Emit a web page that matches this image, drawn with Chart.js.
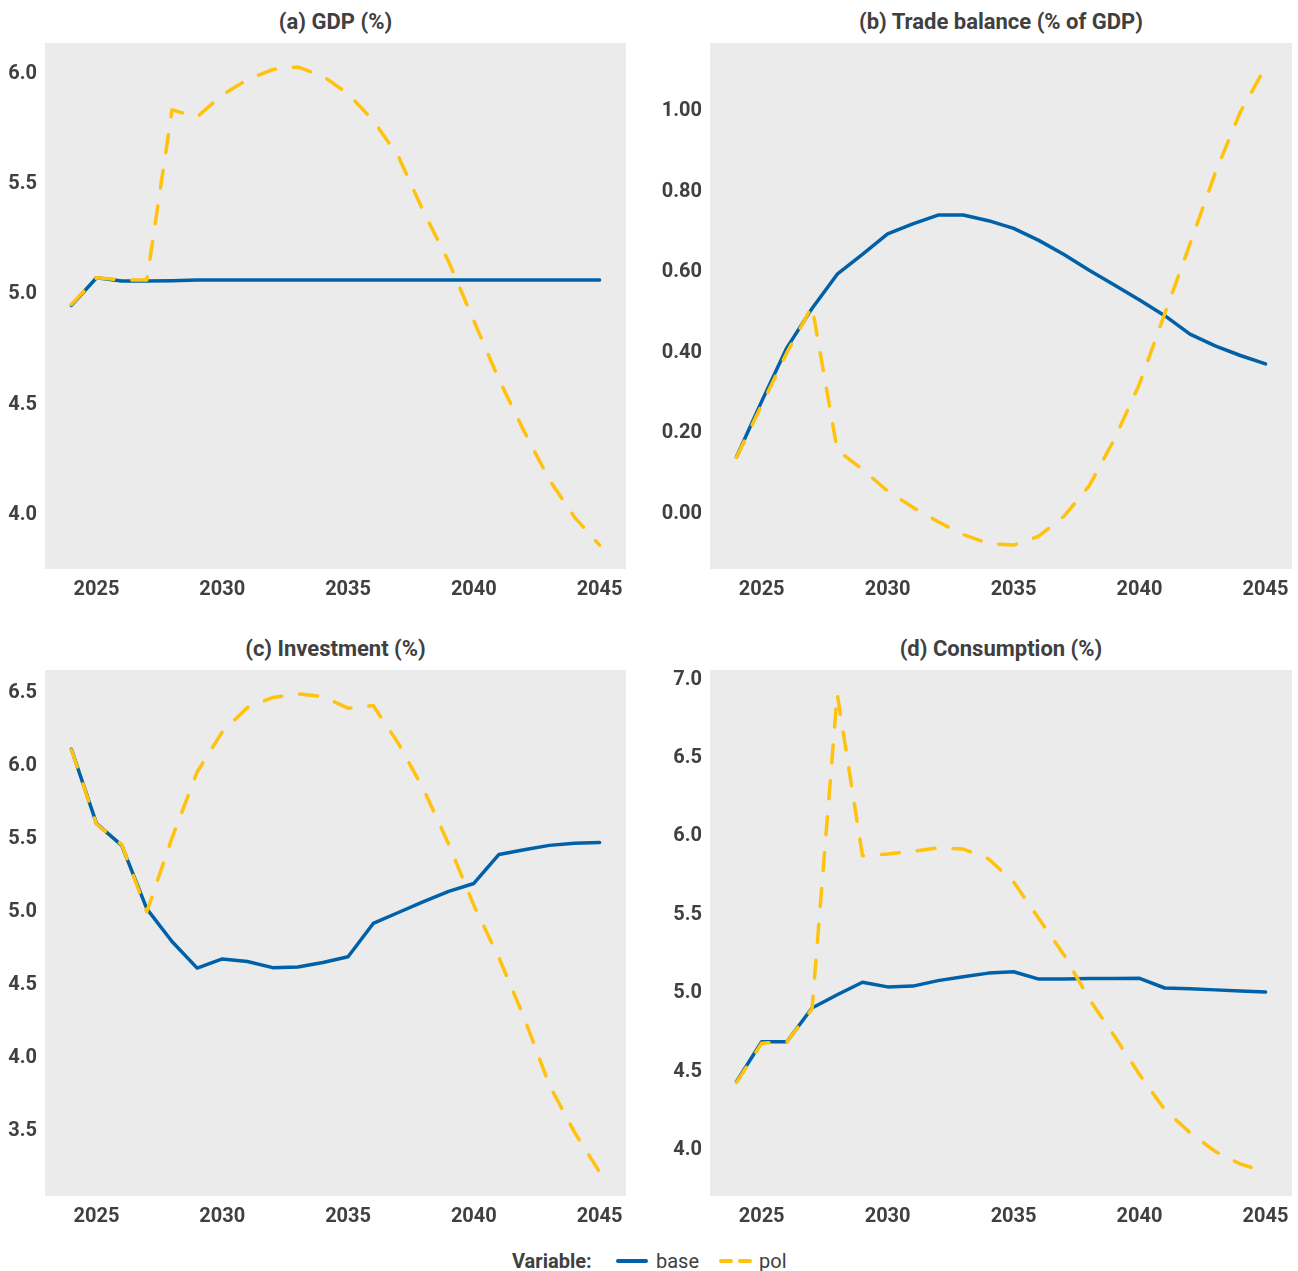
<!DOCTYPE html>
<html>
<head>
<meta charset="utf-8">
<script src="https://cdn.jsdelivr.net/npm/chart.js@4.4.1/dist/chart.umd.min.js"></script>
<style>
  body { margin:0; background:#fff; font-family:Roboto, sans-serif; color:#404040; }
  #page { position:relative; width:1298px; height:1271px; }
  canvas { position:absolute; }
  .ttl { position:absolute; text-align:center; font-size:22px; font-weight:bold; line-height:24px; }
  .leg { position:absolute; top:1249px; font-size:20px; line-height:24px; }
  .sw { position:absolute; height:4px; border-radius:2px; top:1259px; }
</style>
</head>
<body>
<div id="page">
  <div class="ttl" style="left:45px;width:581px;top:10px">(a) GDP (%)</div>
  <div class="ttl" style="left:710px;width:582px;top:10px">(b) Trade balance (% of GDP)</div>
  <div class="ttl" style="left:45px;width:581px;top:637px">(c) Investment (%)</div>
  <div class="ttl" style="left:710px;width:582px;top:637px">(d) Consumption (%)</div>
  <canvas id="gdp" width="640" height="612" style="left:0;top:0"></canvas>
  <canvas id="trade" width="643" height="612" style="left:655px;top:0"></canvas>
  <canvas id="inv" width="640" height="612" style="left:0;top:627px"></canvas>
  <canvas id="cons" width="643" height="612" style="left:655px;top:627px"></canvas>
  <div class="leg" style="left:512px;font-weight:bold">Variable:</div>
  <div class="sw" style="left:616px;width:32px;background:#0061A8"></div>
  <div class="leg" style="left:656px">base</div>
  <div class="sw" style="left:719px;width:14px;background:#FFC20E"></div>
  <div class="sw" style="left:738px;width:14px;background:#FFC20E"></div>
  <div class="leg" style="left:759px">pol</div>
</div>
<script>
var years = [2024,2025,2026,2027,2028,2029,2030,2031,2032,2033,2034,2035,2036,2037,2038,2039,2040,2041,2042,2043,2044,2045];
var xTicks = [2025,2030,2035,2040,2045];

var gdpBase = [4.95,5.075,5.06,5.06,5.062,5.065,5.065,5.065,5.065,5.065,5.065,5.065,5.065,5.065,5.065,5.065,5.065,5.065,5.065,5.065,5.065,5.065];
var gdpPol = [4.954,5.075,5.065,5.065,5.837,5.805,5.905,5.975,6.02,6.032,5.99,5.91,5.789,5.626,5.375,5.148,4.88,4.613,4.378,4.159,3.989,3.862];
var gdpTicks = [4.0,4.5,5.0,5.5,6.0];

var tradeBase = [0.141,0.279,0.412,0.51,0.595,0.644,0.695,0.72,0.742,0.742,0.728,0.709,0.679,0.644,0.605,0.568,0.531,0.492,0.446,0.417,0.393,0.372];
var tradePol = [0.14,0.27,0.40,0.515,0.158,0.11,0.056,0.016,-0.02,-0.052,-0.074,-0.078,-0.056,-0.006,0.069,0.185,0.323,0.497,0.67,0.846,0.998,1.11];
var tradeTicks = [0.0,0.2,0.4,0.6,0.8,1.0];

var invBase = [6.114,5.604,5.455,5.02,4.796,4.614,4.677,4.659,4.617,4.622,4.652,4.692,4.92,4.995,5.07,5.14,5.194,5.393,5.425,5.455,5.47,5.475];
var invPol = [6.11,5.60,5.46,5.0,5.507,5.958,6.234,6.40,6.468,6.493,6.475,6.395,6.413,6.154,5.84,5.463,5.045,4.684,4.274,3.813,3.49,3.216];
var invTicks = [3.5,4.0,4.5,5.0,5.5,6.0,6.5];

var consBase = [4.435,4.69,4.69,4.905,4.99,5.07,5.04,5.045,5.08,5.105,5.128,5.137,5.09,5.09,5.093,5.093,5.095,5.033,5.028,5.021,5.014,5.007];
var consPol = [4.43,4.68,4.69,4.90,6.91,5.877,5.888,5.905,5.928,5.92,5.858,5.71,5.477,5.244,4.963,4.726,4.48,4.256,4.11,3.99,3.91,3.858];
var consTicks = [4.0,4.5,5.0,5.5,6.0,6.5,7.0];

var blue = '#0061A8';
var yellow = '#FFC20E';

Chart.defaults.font.family = 'Roboto';
Chart.defaults.color = '#404040';

// grey panel behind the lines
var panelBg = {
  id: 'panelBg',
  beforeDraw: function(chart) {
    var a = chart.chartArea, ctx = chart.ctx;
    ctx.save();
    ctx.fillStyle = '#EBEBEB';
    ctx.fillRect(a.left, a.top, a.right - a.left, a.bottom - a.top);
    ctx.restore();
  }
};

function pts(vals) {
  return years.map(function(y, i) { return {x: y, y: vals[i]}; });
}

function makeChart(id, base, pol, yTicks, dec, axisW, padRight) {
  var lo = Math.min.apply(null, base.concat(pol));
  var hi = Math.max.apply(null, base.concat(pol));
  var ypad = (hi - lo) * 0.05;
  var xpad = (years[years.length-1] - years[0]) * 0.05;
  var tickFont = {size: 20, weight: 'bold'};

  new Chart(document.getElementById(id), {
    type: 'line',
    data: {
      datasets: [
        {label: 'pol', data: pts(pol), borderColor: yellow, borderDash: [18, 18],
         borderCapStyle: 'round', borderJoinStyle: 'round', order: 0},
        {label: 'base', data: pts(base), borderColor: blue,
         borderCapStyle: 'round', borderJoinStyle: 'round', order: 1}
      ]
    },
    options: {
      responsive: false,
      animation: false,
      events: [],
      layout: {padding: {left: 0, right: padRight, top: 43, bottom: 0}},
      elements: {point: {radius: 0}, line: {tension: 0, borderWidth: 3.5}},
      plugins: {legend: {display: false}, tooltip: {enabled: false}},
      scales: {
        x: {
          type: 'linear',
          min: years[0] - xpad,
          max: years[years.length-1] + xpad,
          afterBuildTicks: function(s) { s.ticks = xTicks.map(function(v) { return {value: v}; }); },
          afterFit: function(s) { s.height = 43; },
          grid: {display: false, drawTicks: false},
          border: {display: false},
          ticks: {padding: 9, font: tickFont, maxRotation: 0, callback: function(v) { return String(v); }}
        },
        y: {
          min: lo - ypad,
          max: hi + ypad,
          afterBuildTicks: function(s) { s.ticks = yTicks.map(function(v) { return {value: v}; }); },
          afterFit: function(s) { s.width = axisW; },
          grid: {display: false, drawTicks: false},
          border: {display: false},
          ticks: {padding: 8, font: tickFont, callback: function(v) { return v.toFixed(dec); }}
        }
      }
    },
    plugins: [panelBg]
  });
}

makeChart('gdp', gdpBase, gdpPol, gdpTicks, 1, 45, 14);
makeChart('trade', tradeBase, tradePol, tradeTicks, 2, 55, 6);
makeChart('inv', invBase, invPol, invTicks, 1, 45, 14);
makeChart('cons', consBase, consPol, consTicks, 1, 55, 6);
</script>
</body>
</html>
